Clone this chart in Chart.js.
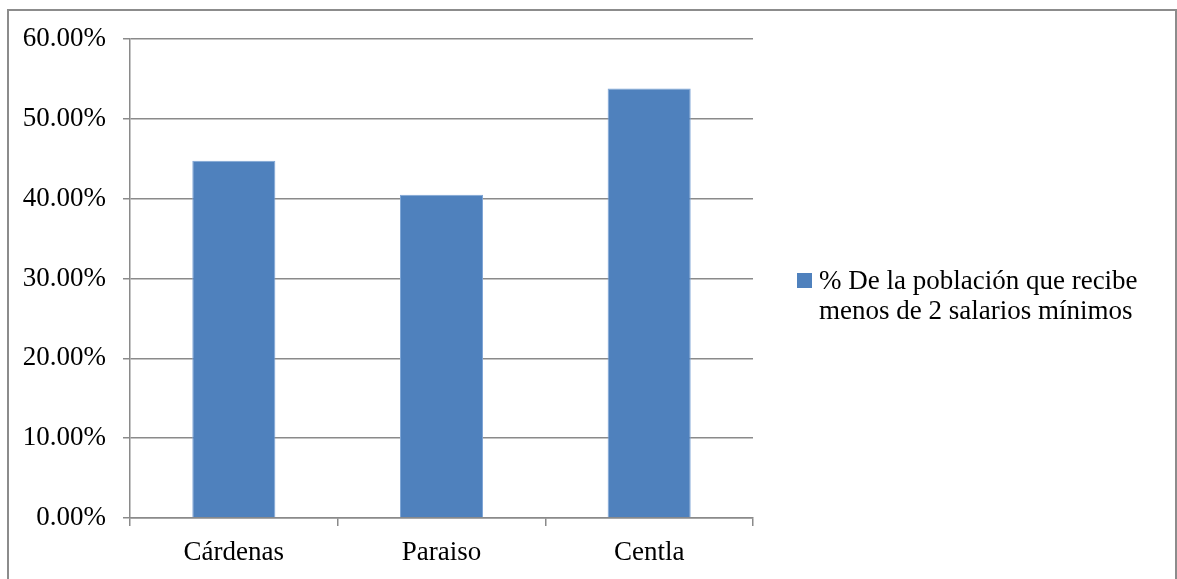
<!DOCTYPE html>
<html lang="es">
<head>
<meta charset="UTF-8">
<title>Población que recibe menos de 2 salarios mínimos</title>
<style>
  html, body { margin: 0; padding: 0; background: #fff; overflow: hidden; }
  #frame {
    position: absolute; left: 7px; top: 9px;
    width: 1166px; height: 600px;
    border: 2px solid #8c8c8c;
  }
  #frame canvas { display: block; }
</style>
</head>
<body>
<div id="frame">
  <canvas id="chart" width="1166" height="570"></canvas>
</div>
<script src="https://cdn.jsdelivr.net/npm/chart.js"></script>
<script>
// data
const municipios = ['Cárdenas', 'Paraiso', 'Centla'];
const porcentajes = [0.4476, 0.405, 0.538];
const legendLines = ['% De la población que recibe', 'menos de 2 salarios mínimos'];
const yTicks = [0, 0.1, 0.2, 0.3, 0.4, 0.5, 0.6];

const FONT = '"Liberation Serif", "Times New Roman", serif';
const GRID = '#8a8a8a';
const BAR = '#4f81bd';

// legend drawn next to the plot, two lines like the original
const sideLegend = {
  id: 'sideLegend',
  afterDraw(chart) {
    const ctx = chart.ctx;
    const ds = chart.data.datasets[0];
    const x = 788, y = 262;
    ctx.save();
    ctx.fillStyle = ds.backgroundColor;
    ctx.fillRect(x, y, 15, 15);
    ctx.fillStyle = '#000';
    ctx.font = '27px ' + FONT;
    ctx.textBaseline = 'alphabetic';
    ds.label.forEach((line, i) => {
      ctx.fillText(line, x + 22, y + 16 + i * 30);
    });
    ctx.restore();
  }
};

new Chart(document.getElementById('chart'), {
  type: 'bar',
  data: {
    labels: municipios,
    datasets: [{
      label: legendLines,
      data: porcentajes,
      backgroundColor: BAR,
      borderColor: '#7ea5d6',
      borderWidth: 1,
      barPercentage: 0.4,
      categoryPercentage: 1
    }]
  },
  options: {
    responsive: false,
    animation: false,
    layout: { padding: { top: 28, right: 422, bottom: 0, left: 0 } },
    plugins: {
      legend: { display: false },
      tooltip: { enabled: false }
    },
    scales: {
      x: {
        grid: { offset: true, drawOnChartArea: false, color: GRID, tickLength: 8, lineWidth: 1.5 },
        border: { color: GRID, width: 1.5 },
        ticks: { color: '#000', font: { family: FONT, size: 27 }, padding: 11 },
        afterFit(scale) { scale.height = 63; }
      },
      y: {
        min: 0,
        max: 0.6,
        afterBuildTicks(scale) { scale.ticks = yTicks.map(v => ({ value: v })); },
        grid: { color: GRID, tickLength: 7, lineWidth: 1.5 },
        border: { color: GRID, width: 1.5 },
        ticks: {
          color: '#000',
          font: { family: FONT, size: 27 },
          padding: 17,
          callback: v => (v * 100).toFixed(2) + '%'
        },
        afterFit(scale) {
          scale.width = 121;
          scale.paddingTop = 0;
          scale.paddingBottom = 0;
        }
      }
    }
  },
  plugins: [sideLegend]
});
</script>
</body>
</html>
